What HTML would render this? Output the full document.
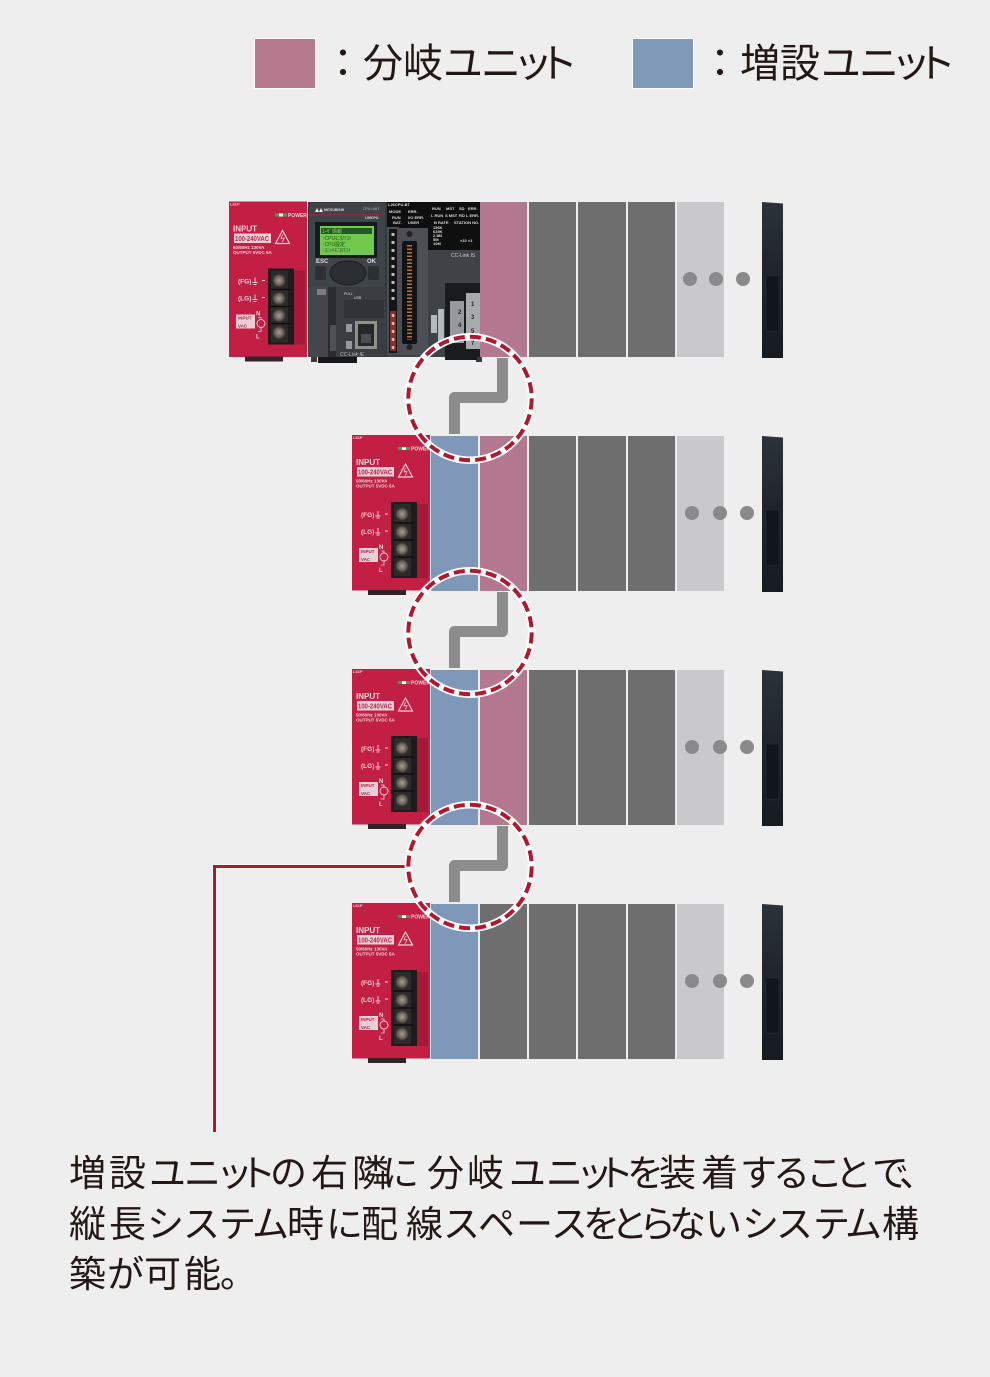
<!DOCTYPE html>
<html lang="ja"><head><meta charset="utf-8"><style>
html,body{margin:0;padding:0;background:#eee}
svg{display:block}
.jp{font-family:"Liberation Sans","Noto Sans CJK JP",sans-serif;fill:#231815}
.l{font-family:"Liberation Sans",sans-serif;font-weight:700;fill:#efd3d8}
</style></head><body>
<svg width="990" height="1377" viewBox="0 0 990 1377" xmlns="http://www.w3.org/2000/svg">
<defs>
<radialGradient id="sc"><stop offset="0" stop-color="#a89e94"/><stop offset=".6" stop-color="#6d645c"/><stop offset="1" stop-color="#2a2624"/></radialGradient>
<linearGradient id="bk" x1="0" x2="0" y1="0" y2="1"><stop offset="0" stop-color="#2b3239"/><stop offset=".5" stop-color="#1e242a"/><stop offset="1" stop-color="#161b20"/></linearGradient>
<g id="psu">
<rect x="352" y="435" width="78" height="155.500" fill="#c31f44"/>
<rect x="368" y="590" width="38" height="5" fill="#33222a"/>
<rect x="398" y="447" width="12" height="3" fill="#2fa84f"/><rect x="402" y="447" width="4" height="3" fill="#fff"/>
<rect x="357" y="467" width="37" height="9.500" fill="#e6d0d6"/>
<path d="M398.500 477L405.500 464L412.500 477Z" fill="none" stroke="#f0d0d6" stroke-width="1.200"/>
<path d="M405.500 468l-1.500 4 3-.5-1.500 4" fill="none" stroke="#f0d0d6" stroke-width=".8"/>
<rect x="417" y="504" width="11" height="74" fill="#9a1533" opacity=".7"/>
<rect x="391" y="502" width="26" height="76" fill="#1e1b1c"/>
<rect x="394" y="504" width="17" height="72" fill="#2d2a2a"/>
<circle cx="402" cy="514" r="7" fill="url(#sc)"/><circle cx="402" cy="532" r="7" fill="url(#sc)"/><circle cx="402" cy="549" r="7" fill="url(#sc)"/><circle cx="402" cy="566" r="7" fill="url(#sc)"/>
<path d="M394 523h20M394 540h20M394 557h20" stroke="#0e0c0c" stroke-width="1.500"/>
<rect x="359" y="548" width="19" height="14" fill="#e6d0d6"/>
<circle cx="384" cy="557" r="4" fill="none" stroke="#f0d0d6" stroke-width=".9"/>
<path d="M381 551h3v2M384 561v4h-3" fill="none" stroke="#f0d0d6" stroke-width=".8"/>
<path d="M378 511v5M375.500 516h5M376.500 518h3M378 528v5M375.500 533h5M376.500 535h3M385 514h3M385 531h3" stroke="#efd3d8" stroke-width=".9" fill="none"/>
</g>
<g id="cut"><path d="M502.500 358V397.500H454.500V434" fill="none" stroke="#8c8c8c" stroke-width="11" stroke-linejoin="round"/></g>
<g id="ring"><circle cx="470" cy="398.500" r="61.700" fill="none" stroke="#fff" stroke-width="7.500"/><circle cx="470" cy="398.500" r="61.700" fill="none" stroke="#b2182d" stroke-width="4" stroke-dasharray="11 5.140"/></g>
<g id="end">
<path d="M762 202L783 203.500V358H762Z" fill="url(#bk)"/><rect x="766" y="276" width="13" height="55" fill="#10171c" stroke="#252b30" stroke-width=".6"/>
</g>
</defs>
<rect width="990" height="1377" fill="#eee"/>

<!-- legend -->
<rect x="254.500" y="38.500" width="61" height="50" fill="#b67a8e" stroke="#fff"/>
<rect x="632.500" y="38.500" width="61" height="50" fill="#829ab9" stroke="#fff"/>
<text class="jp" font-size="40" y="77" x="323 363 403 443 481 513 538">：分岐ユニット</text>
<text class="jp" font-size="40" y="77" x="700 740 780 821 859 891 916">：増設ユニット</text>

<!-- row 1 columns -->
<g>
<rect x="480" y="202" width="47" height="155" fill="#b4788e"/>
<rect x="529" y="202" width="47" height="155" fill="#6e6e6e"/><rect x="578" y="202" width="48" height="155" fill="#6e6e6e"/><rect x="628" y="202" width="47" height="155" fill="#6e6e6e"/>
<rect x="677" y="202" width="47" height="155" fill="#c9c9cb"/>
<circle cx="690" cy="279" r="7" fill="#8a8a8a"/><circle cx="716" cy="279" r="7" fill="#8a8a8a"/><circle cx="743" cy="279" r="7" fill="#8a8a8a"/>
</g>
<use href="#end"/>

<!-- row 2 -->
<rect x="431" y="436" width="47" height="155" fill="#7f98b9"/><rect x="480" y="436" width="47" height="155" fill="#b4788e"/>
<rect x="529" y="436" width="47" height="155" fill="#6e6e6e"/><rect x="578" y="436" width="48" height="155" fill="#6e6e6e"/><rect x="628" y="436" width="47" height="155" fill="#6e6e6e"/><rect x="677" y="436" width="47" height="155" fill="#c9c9cb"/>
<circle cx="692" cy="513" r="7" fill="#8a8a8a"/><circle cx="720" cy="513" r="7" fill="#8a8a8a"/><circle cx="747" cy="513" r="7" fill="#8a8a8a"/>
<use href="#end" y="234"/>
<!-- row 3 -->
<rect x="431" y="670" width="47" height="155" fill="#7f98b9"/><rect x="480" y="670" width="47" height="155" fill="#b4788e"/>
<rect x="529" y="670" width="47" height="155" fill="#6e6e6e"/><rect x="578" y="670" width="48" height="155" fill="#6e6e6e"/><rect x="628" y="670" width="47" height="155" fill="#6e6e6e"/><rect x="677" y="670" width="47" height="155" fill="#c9c9cb"/>
<circle cx="692" cy="747" r="7" fill="#8a8a8a"/><circle cx="720" cy="747" r="7" fill="#8a8a8a"/><circle cx="747" cy="747" r="7" fill="#8a8a8a"/>
<use href="#end" y="468"/>
<!-- row 4 -->
<rect x="431" y="904" width="47" height="155" fill="#7f98b9"/><rect x="480" y="904" width="47" height="155" fill="#6e6e6e"/>
<rect x="529" y="904" width="47" height="155" fill="#6e6e6e"/><rect x="578" y="904" width="48" height="155" fill="#6e6e6e"/><rect x="628" y="904" width="47" height="155" fill="#6e6e6e"/><rect x="677" y="904" width="47" height="155" fill="#c9c9cb"/>
<circle cx="692" cy="981" r="7" fill="#8a8a8a"/><circle cx="720" cy="981" r="7" fill="#8a8a8a"/><circle cx="747" cy="981" r="7" fill="#8a8a8a"/>
<use href="#end" y="702"/>

<!-- power supplies -->
<g transform="translate(-123,-233.500)"><use href="#psu"/>
<g class="l"><text x="353" y="439" font-size="4">L61P</text><text x="411" y="450.500" font-size="5">POWER</text><text x="356" y="465" font-size="8">INPUT</text><text x="358" y="474.500" font-size="7" style="fill:#b62a4c" textLength="34" lengthAdjust="spacingAndGlyphs">100-240VAC</text><text x="356" y="482.500" font-size="4.500">50/60Hz 130VA</text><text x="356" y="487.500" font-size="4.500">OUTPUT 5VDC 5A</text><text x="361" y="517" font-size="6.500">(FG)</text><text x="361" y="534" font-size="6.500">(LG)</text><text x="379" y="549" font-size="6">N</text><text x="379" y="572" font-size="6">L</text><text x="361" y="553" font-size="4.500" style="fill:#c02040">INPUT</text><text x="361" y="561" font-size="4.500" style="fill:#c02040">VAC</text></g></g>
<use href="#psu"/>
<g class="l"><text x="353" y="439" font-size="4">L61P</text><text x="411" y="450.500" font-size="5">POWER</text><text x="356" y="465" font-size="8">INPUT</text><text x="358" y="474.500" font-size="7" style="fill:#b62a4c" textLength="34" lengthAdjust="spacingAndGlyphs">100-240VAC</text><text x="356" y="482.500" font-size="4.500">50/60Hz 130VA</text><text x="356" y="487.500" font-size="4.500">OUTPUT 5VDC 5A</text><text x="361" y="517" font-size="6.500">(FG)</text><text x="361" y="534" font-size="6.500">(LG)</text><text x="379" y="549" font-size="6">N</text><text x="379" y="572" font-size="6">L</text><text x="361" y="553" font-size="4.500" style="fill:#c02040">INPUT</text><text x="361" y="561" font-size="4.500" style="fill:#c02040">VAC</text></g>
<g transform="translate(0,234)"><use href="#psu"/>
<g class="l"><text x="353" y="439" font-size="4">L61P</text><text x="411" y="450.500" font-size="5">POWER</text><text x="356" y="465" font-size="8">INPUT</text><text x="358" y="474.500" font-size="7" style="fill:#b62a4c" textLength="34" lengthAdjust="spacingAndGlyphs">100-240VAC</text><text x="356" y="482.500" font-size="4.500">50/60Hz 130VA</text><text x="356" y="487.500" font-size="4.500">OUTPUT 5VDC 5A</text><text x="361" y="517" font-size="6.500">(FG)</text><text x="361" y="534" font-size="6.500">(LG)</text><text x="379" y="549" font-size="6">N</text><text x="379" y="572" font-size="6">L</text><text x="361" y="553" font-size="4.500" style="fill:#c02040">INPUT</text><text x="361" y="561" font-size="4.500" style="fill:#c02040">VAC</text></g></g>
<g transform="translate(0,468)"><use href="#psu"/>
<g class="l"><text x="353" y="439" font-size="4">L61P</text><text x="411" y="450.500" font-size="5">POWER</text><text x="356" y="465" font-size="8">INPUT</text><text x="358" y="474.500" font-size="7" style="fill:#b62a4c" textLength="34" lengthAdjust="spacingAndGlyphs">100-240VAC</text><text x="356" y="482.500" font-size="4.500">50/60Hz 130VA</text><text x="356" y="487.500" font-size="4.500">OUTPUT 5VDC 5A</text><text x="361" y="517" font-size="6.500">(FG)</text><text x="361" y="534" font-size="6.500">(LG)</text><text x="379" y="549" font-size="6">N</text><text x="379" y="572" font-size="6">L</text><text x="361" y="553" font-size="4.500" style="fill:#c02040">INPUT</text><text x="361" y="561" font-size="4.500" style="fill:#c02040">VAC</text></g></g>

<!-- CPU -->
<rect x="308" y="202" width="172" height="155" fill="#35393e"/>
<rect x="318" y="357" width="39" height="6" fill="#17181b"/><rect x="311" y="357" width="6" height="5" fill="#3a3a3a"/><rect x="476" y="357" width="6" height="5" fill="#3a3a3a"/><rect x="445" y="357" width="32" height="3" fill="#1a1a1c"/>
<rect x="309" y="203" width="76" height="84" rx="3" fill="#3f4449"/>
<rect x="309" y="214" width="76" height="1.500" fill="#8e2a38"/>
<path d="M315 212l2-4 2 4zM319 212l2-4 2 4z" fill="#e8e8e8"/>
<text x="324" y="211" font-family="Liberation Sans" font-size="3.500" font-weight="700" fill="#ddd">MITSUBISHI</text>
<text x="363" y="210" font-family="Liberation Sans" font-size="3.500" fill="#bbb">CPU UNIT</text>
<text x="365" y="219" font-family="Liberation Sans" font-size="3.500" font-weight="700" fill="#ddd">L06CPU</text>
<rect x="315" y="222" width="62" height="36" fill="#17191b"/>
<rect x="320" y="226" width="54" height="29" fill="#72c94c"/>
<rect x="321" y="228" width="51" height="6" fill="#1f5a1f"/>
<g font-family="Liberation Sans,Noto Sans CJK JP,sans-serif" font-size="5" fill="#1e4a1c"><text x="322" y="233" fill="#8fdc6e">ﾕｰｻﾞ情報</text><text x="322" y="240">･CPUﾓﾆﾀ/ﾃｽﾄ</text><text x="322" y="246">･CPU設定</text><text x="322" y="252">･ﾕﾆｯﾄﾓﾆﾀ/ﾃｽﾄ</text></g>
<text x="316" y="263" font-family="Liberation Sans" font-size="6" font-weight="700" fill="#ddd">ESC</text><text x="367" y="263" font-family="Liberation Sans" font-size="6" font-weight="700" fill="#ddd">OK</text>
<rect x="315" y="266" width="11" height="14" rx="2" fill="#2c3034"/><rect x="368" y="266" width="11" height="14" rx="2" fill="#2c3034"/>
<ellipse cx="348" cy="273" rx="18" ry="12" fill="#2a2e32" stroke="#171a1c"/>
<rect x="308" y="287" width="20" height="70" fill="#43474b"/><rect x="317" y="289" width="9" height="6" fill="#7c7e80"/>
<rect x="328" y="287" width="8" height="70" fill="#2a2d30"/><rect x="330" y="325" width="6" height="26" fill="#4e5256"/>
<rect x="336" y="287" width="50" height="70" fill="#3a3e42"/>
<rect x="344" y="300" width="40" height="18" fill="#303438"/>
<text x="344" y="295" font-family="Liberation Sans" font-size="3.500" fill="#ddd">PULL</text><text x="354" y="299" font-family="Liberation Sans" font-size="3.500" fill="#ddd">USB</text>
<rect x="346" y="324" width="6" height="8" fill="#999"/><rect x="346" y="341" width="6" height="8" fill="#999"/>
<rect x="355" y="321" width="22" height="28" fill="#8f9086"/><rect x="358" y="324" width="16" height="22" fill="#26292b"/><rect x="361" y="334" width="10" height="9" fill="#4b4f50"/>
<text x="340" y="356" font-family="Liberation Sans" font-size="5" font-style="italic" fill="#bbb">CC-Link IE</text>
<rect x="387" y="202" width="42" height="155" fill="#3f4348"/>
<rect x="387" y="202" width="41" height="26" fill="#0f0f10"/>
<g font-family="Liberation Sans" font-size="4" font-weight="700" fill="#ddd"><text x="388" y="206">L26CPU-BT</text><text x="389" y="213">MODE</text><text x="408" y="213">ERR.</text><text x="392" y="219">RUN</text><text x="408" y="219">I/O ERR.</text><text x="393" y="224">BAT.</text><text x="408" y="224">USER</text></g>
<rect x="387" y="227" width="12" height="128" fill="#4a4e53"/>
<rect x="389" y="229" width="8" height="124" fill="#131415"/>
<rect x="390" y="311" width="6" height="40" fill="#80322c"/>
<path d="M393 233v72" stroke="#bbb" stroke-width="3" stroke-dasharray="3 5"/><path d="M393 314v36" stroke="#e8b0a0" stroke-width="2.500" stroke-dasharray="3 5"/>
<rect x="399" y="228" width="29" height="127" fill="#4c5055"/>
<rect x="402" y="241" width="15" height="103" rx="2" fill="#111213"/>
<path d="M409.500 245V340" stroke="#b8752e" stroke-width="5" stroke-dasharray="1.500 2"/>
<circle cx="409.500" cy="234" r="3" fill="#222"/><circle cx="409.500" cy="347" r="3" fill="#222"/>
<rect x="428" y="202" width="52" height="48" fill="#0f0f10"/>
<g font-family="Liberation Sans" font-size="4" font-weight="700" fill="#ddd"><text x="432" y="210">RUN</text><text x="446" y="210">MST</text><text x="459" y="210">SD</text><text x="468" y="210">ERR.</text><text x="431" y="217">L RUN</text><text x="445" y="217">S MST</text><text x="459" y="217">RD</text><text x="466" y="217">L ERR.</text><text x="434" y="224">B RATE</text><text x="454" y="224">STATION NO.</text><text x="433" y="229">156K</text><text x="433" y="233">625K</text><text x="433" y="237">2.5M</text><text x="433" y="241">5M</text><text x="433" y="245">10M</text><text x="460" y="242">×10 ×1</text></g>
<rect x="428" y="250" width="52" height="107" fill="#3f4348"/>
<text x="451" y="257" font-family="Liberation Sans" font-size="5" fill="#ccc">CC-Link IS</text>
<rect x="445" y="283" width="35" height="74" fill="#1a1b1d"/>
<rect x="466" y="293" width="14" height="56" fill="#a8abae"/><rect x="450" y="301" width="14" height="42" fill="#96999d"/>
<rect x="431" y="315" width="6" height="18" fill="#b4bbbf"/><rect x="438" y="309" width="6" height="36" fill="#b4bbbf"/>
<g font-family="Liberation Sans" font-size="6" font-weight="700" fill="#222"><text x="471" y="306">1</text><text x="458" y="314">2</text><text x="471" y="319">3</text><text x="458" y="327">4</text><text x="471" y="333">5</text><text x="471" y="345">7</text></g>

<!-- connectors -->
<use href="#cut"/><use href="#cut" y="234"/><use href="#cut" y="468"/>

<!-- leader line -->
<path d="M408 866.500H214.500V1132" fill="none" stroke="#fff" stroke-width="5"/>
<path d="M408 866.500H214.500V1132" fill="none" stroke="#b2182d" stroke-width="3"/>

<!-- rings -->
<use href="#ring"/><use href="#ring" y="234"/><use href="#ring" y="468"/>

<!-- caption -->
<text class="jp" font-size="37" y="1186" x="69 109 149 184 216 239 270 311 352 382 427 467 509 546 576 597 627 659 701 740 773 806 835 872 899">増設ユニットの右隣に分岐ユニットを装着することで、</text>
<text class="jp" font-size="37" y="1237" x="69 109 147 183 219 252 287 326 361 406 443 478 516 551 583 611 639 669 705 742 776 813 845 882">縦長システム時に配線スペースをとらないシステム構</text>
<text class="jp" font-size="37" y="1287" x="69 107 144 184 220">築が可能。</text>
</svg>
</body></html>
